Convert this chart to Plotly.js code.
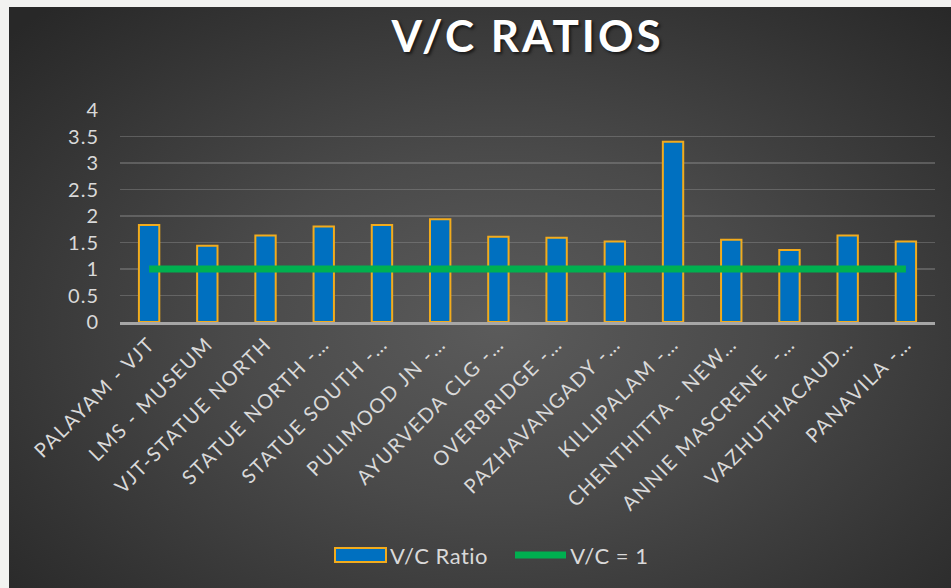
<!DOCTYPE html>
<html>
<head>
<meta charset="utf-8">
<script src="https://cdn.plot.ly/plotly-3.0.1.min.js"></script>
<style>
  html, body { margin: 0; padding: 0; background: #f2f2f0; width: 951px; height: 588px; overflow: hidden; }
  #chart {
    position: absolute; left: 9px; top: 7px; width: 942px; height: 581px;
    background: radial-gradient(ellipse 70% 75% at 52% 55%, #5b5b5b 0%, #4a4a4a 40%, #333333 80%, #282828 100%);
  }
  #chart .xtick text { letter-spacing: 1.6px; }
  #chart .ytick text { letter-spacing: 1px; }
  #chart .gtitle { letter-spacing: 3px; }
  #chart .annotation-text { letter-spacing: 0.5px; }
</style>
</head>
<body>
<div id="chart"></div>
<script>
const categories = [
  "PALAYAM - VJT", "LMS - MUSEUM", "VJT-STATUE NORTH", "STATUE NORTH -…",
  "STATUE SOUTH -…", "PULIMOOD JN -…", "AYURVEDA CLG -…", "OVERBRIDGE -…",
  "PAZHAVANGADY -…", "KILLIPALAM -…", "CHENTHITTA - NEW…", "ANNIE MASCRENE  -…",
  "VAZHUTHACAUD…", "PANAVILA -…"
];
const vcRatio = [1.83, 1.44, 1.63, 1.80, 1.83, 1.94, 1.61, 1.59, 1.52, 3.40, 1.55, 1.36, 1.63, 1.52];
const vcLimit = [1, 1, 1, 1, 1, 1, 1, 1, 1, 1, 1, 1, 1, 1];
const yTicks = [0, 0.5, 1, 1.5, 2, 2.5, 3, 3.5, 4];
const yTickText = ["0", "0.5", "1", "1.5", "2", "2.5", "3", "3.5", "4"];
const seriesNames = ["V/C Ratio", "V/C = 1"];

const fontFam = "Lato, 'Open Sans', sans-serif";
const textCol = "#d9d9d9";
const barFill = "#0070c0", barLine = "#f2ab1c", lineCol = "#00b050";

const W = 942, H = 581, ML = 111, MR = 16, MT = 103, MB = 266;
const PW = W - ML - MR, PH = H - MT - MB;
// page pixel -> paper coords (div is offset by 9,7)
const px = x => (x - 9 - ML) / PW;
const py = y => (H - MB - (y - 7)) / PH;

const traces = [
  {
    type: "bar", name: seriesNames[0], x: categories, y: vcRatio,
    marker: { color: barFill, line: { color: barLine, width: 2 } },
    showlegend: false
  },
  {
    type: "scatter", mode: "lines", name: seriesNames[1], x: categories, y: vcLimit,
    line: { color: lineCol, width: 7 },
    showlegend: false
  }
];

// legend drawn as shapes + text (Office-style wide swatches)
const shapes = [
  { type: "rect", xref: "paper", yref: "paper",
    x0: px(335), x1: px(386), y0: py(562), y1: py(548),
    fillcolor: barFill, line: { color: barLine, width: 2 } },
  { type: "line", xref: "paper", yref: "paper",
    x0: px(515), x1: px(566), y0: py(555), y1: py(555),
    line: { color: lineCol, width: 7 } }
];
const annotations = [
  { xref: "paper", yref: "paper", x: px(390), y: py(555), xanchor: "left", yanchor: "middle",
    text: seriesNames[0], showarrow: false, font: { family: fontFam, size: 22, color: textCol } },
  { xref: "paper", yref: "paper", x: px(570), y: py(555), xanchor: "left", yanchor: "middle",
    text: seriesNames[1], showarrow: false, font: { family: fontFam, size: 22, color: textCol } }
];

const layout = {
  width: W, height: H,
  paper_bgcolor: "rgba(0,0,0,0)", plot_bgcolor: "rgba(0,0,0,0)",
  margin: { l: ML, r: MR, t: MT, b: MB },
  bargap: 0.65,
  showlegend: false,
  title: {
    text: "<b>V/C RATIOS</b>",
    font: { family: fontFam, size: 44, color: "#ffffff", shadow: "2px 2px 3px rgba(0,0,0,0.6)" },
    x: 0.5, xref: "paper", xanchor: "center",
    y: 1 - 30 / H, yref: "container", yanchor: "middle"
  },
  xaxis: {
    type: "category",
    tickangle: -45,
    tickfont: { family: fontFam, size: 20, color: textCol },
    showgrid: false, zeroline: false,
    showline: true, linecolor: "#a6a6a6", linewidth: 2.5,
    ticks: "", automargin: false
  },
  yaxis: {
    range: [0, 4],
    tickvals: yTicks, ticktext: yTickText,
    tickfont: { family: fontFam, size: 20, color: textCol },
    showgrid: true, gridcolor: "rgba(150,150,150,0.4)", gridwidth: 1.5,
    zeroline: false, showline: false, ticks: "",
    ticklabelstandoff: 20,
    automargin: false, fixedrange: true
  },
  shapes: shapes,
  annotations: annotations
};

Plotly.newPlot("chart", traces, layout, { displayModeBar: false, staticPlot: true });
</script>
</body>
</html>
